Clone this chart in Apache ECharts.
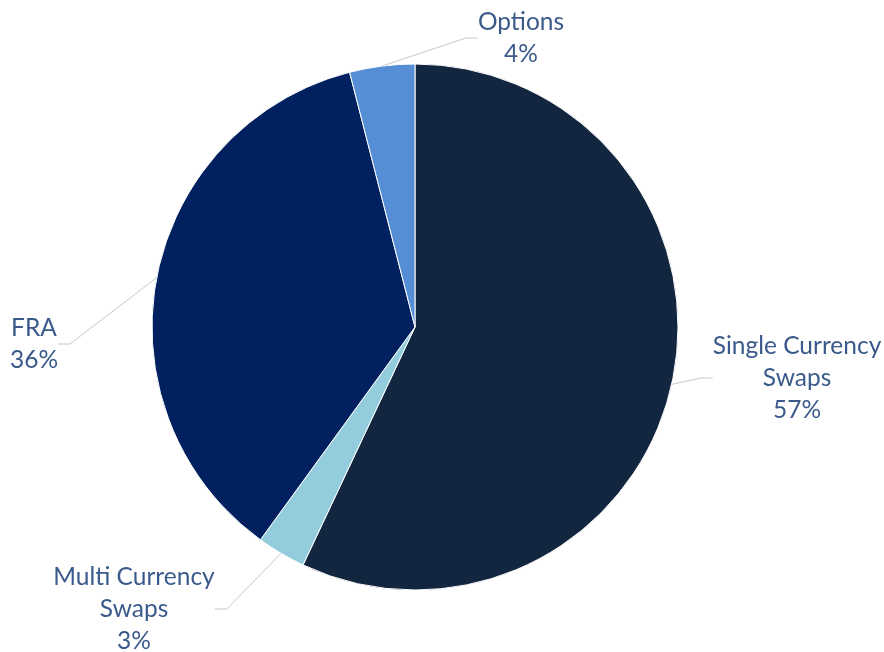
<!DOCTYPE html>
<html>
<head>
<meta charset="utf-8">
<script src="https://cdn.jsdelivr.net/npm/echarts@6/dist/echarts.min.js"></script>
<style>
  html, body { margin: 0; padding: 0; background: #ffffff; }
  #chart { width: 884px; height: 652px; }
</style>
</head>
<body>
<div id="chart"></div>
<script>
// Instrument mix (share of notional, %)
const categories = ['Single Currency\nSwaps', 'Multi Currency\nSwaps', 'FRA', 'Options'];
const shares = [57, 3, 36, 4];
const sliceColors = ['#132640', '#93CDDD', '#002060', '#558ED5'];

// Where each label block sits (centre of the text block)
const labelSpots = [
  { x: 797, y: 378 },
  { x: 134, y: 609 },
  { x: 34, y: 344 },
  { x: 521, y: 38 }
];

const chart = echarts.init(document.getElementById('chart'), null, { renderer: 'canvas' });

chart.setOption({
  animation: false,
  backgroundColor: '#ffffff',
  series: [{
    type: 'pie',
    center: [415, 327],
    radius: [0, 263],
    startAngle: 90,
    clockwise: true,
    avoidLabelOverlap: false,
    data: categories.map((name, i) => ({
      name: name,
      value: shares[i],
      itemStyle: { color: sliceColors[i] }
    })),
    itemStyle: { borderColor: '#ffffff', borderWidth: 1 },
    label: {
      show: true,
      position: 'outside',
      formatter: p => p.name + '\n' + p.value + '%',
      fontFamily: 'Lato, "Open Sans", sans-serif',
      fontSize: 24.5,
      lineHeight: 32,
      color: '#3A5A8B',
      align: 'center'
    },
    labelLine: {
      show: true,
      length: 20,
      length2: 12,
      lineStyle: { color: '#C8C8C8', width: 1 }
    },
    labelLayout: function (params) {
      const s = labelSpots[params.dataIndex];
      return { x: s.x, y: s.y, align: 'center', verticalAlign: 'middle' };
    }
  }]
});
</script>
</body>
</html>
